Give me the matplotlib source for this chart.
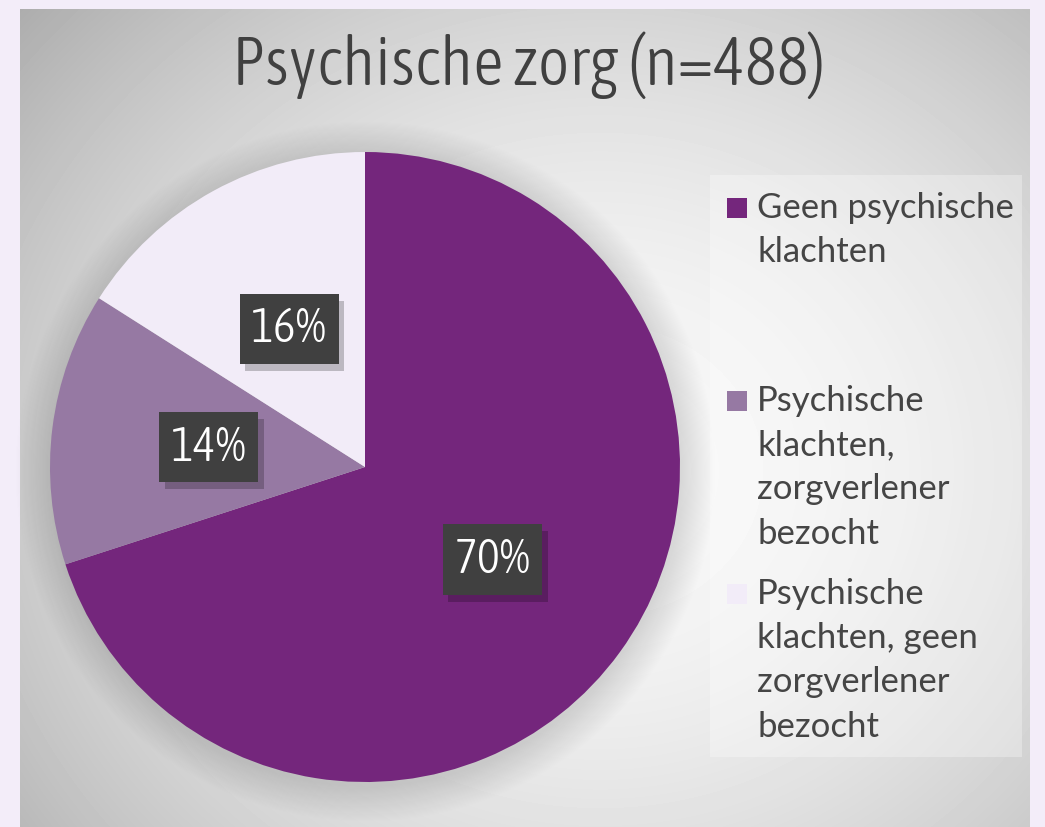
import matplotlib.pyplot as plt
import matplotlib.patheffects as pe
import numpy as np
from matplotlib.patches import Rectangle

# data
categories = [
    "Geen psychische\nklachten",
    "Psychische\nklachten,\nzorgverlener\nbezocht",
    "Psychische\nklachten, geen\nzorgverlener\nbezocht",
]
shares = [70, 14, 16]
colors = ["#74267c", "#9679a3", "#f2ecf8"]
title = "Psychische zorg (n=488)"

NARROW = ["Asap Condensed", "DejaVu Sans"]

W, H = 1045, 827
fig = plt.figure(figsize=(W / 100, H / 100), dpi=100)
fig.patch.set_facecolor("#f3edf9")

# background panel with radial gradient, in pixel coords
bg = fig.add_axes([0, 0, 1, 1])
bg.set_xlim(0, W)
bg.set_ylim(H, 0)
bg.axis("off")

px0, px1, py0, py1 = 20, 1030, 9, 827
yy, xx = np.mgrid[py0:py1, px0:px1]
cx, cy = 600, 470
r = np.sqrt(((xx - cx) / 620) ** 2 + ((yy - cy) / 560) ** 2)
grad = np.clip(0.975 - 0.2 * r ** 1.8, 0, 1)
bg.imshow(grad, cmap="gray", vmin=0, vmax=1, extent=(px0, px1, py1, py0), aspect="auto", zorder=1)

# soft shadow around the pie
pcx, pcy, R = 365, 467, 315
sy, sx = np.mgrid[100:827, 0:730]
d = np.sqrt((sx - pcx) ** 2 + (sy - pcy - 4) ** 2)
sh = np.clip(1 - (d - R) / 36, 0, 1) * 0.13
rgba = np.zeros(sh.shape + (4,))
rgba[..., 3] = sh
bg.imshow(rgba, extent=(0, 730, 827, 100), aspect="auto", zorder=2)

# legend backdrop
bg.add_patch(Rectangle((710, 175), 312, 582, facecolor="white", alpha=0.3, edgecolor="none", zorder=3))

bg.text(528, 65, title, ha="center", va="center", fontsize=49, weight=300,
        family=NARROW, color="#404040", zorder=4)

# pie
ax = fig.add_axes([(pcx - R) / W, (H - pcy - R) / H, 2 * R / W, 2 * R / H])
wedges, texts, autotexts = ax.pie(
    shares,
    colors=colors,
    startangle=90,
    counterclock=False,
    autopct="%1.0f%%",
    pctdistance=0.5,
    radius=1,
    wedgeprops=dict(linewidth=0),
    textprops=dict(color="white", fontsize=35, family=NARROW, weight=300),
)
ax.set_xlim(-1, 1)
ax.set_ylim(-1, 1)
ax.set_aspect("equal")
ax.axis("off")

for t in autotexts:
    t.set_bbox(dict(boxstyle="square,pad=0.24", facecolor="#404040", edgecolor="none"))
    t.get_bbox_patch().set_path_effects(
        [pe.SimplePatchShadow(offset=(4, -5), shadow_rgbFace="black", alpha=0.22), pe.Normal()]
    )
    t.set_zorder(5)

# legend, laid out in equal slots like the original
for i, (lab, col) in enumerate(zip(categories, colors)):
    y0 = 208 + 193 * i
    bg.add_patch(Rectangle((727, y0 - 10), 20, 20, facecolor=col, edgecolor="none", zorder=4))
    bg.text(757, y0 - 16, lab, ha="left", va="top", fontsize=25, family="Lato",
            color="#454545", linespacing=1.47, zorder=4)

fig.savefig("out.png", dpi=100, facecolor=fig.get_facecolor())
